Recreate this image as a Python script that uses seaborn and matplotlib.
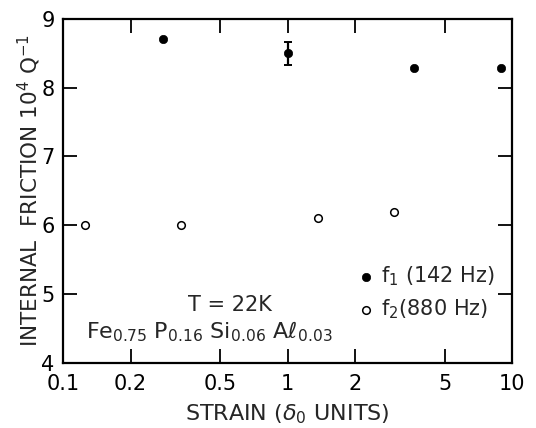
import matplotlib
matplotlib.use("Agg")
import matplotlib.pyplot as plt
import seaborn as sns
import pandas as pd

# Internal friction vs. strain amplitude at T = 22 K
strain_f1 = [0.28, 1.0, 3.65, 8.9]
friction_f1 = [8.7, 8.5, 8.28, 8.28]
err_f1 = [0.0, 0.17, 0.0, 0.0]

strain_f2 = [0.125, 0.335, 1.36, 2.97]
friction_f2 = [6.0, 6.0, 6.1, 6.2]

x_ticks = [0.1, 0.2, 0.5, 1, 2, 5, 10]
x_ticklabels = ["0.1", "0.2", "0.5", "1", "2", "5", "10"]
y_ticks = [4, 5, 6, 7, 8, 9]

sns.set_style("ticks")
plt.rcParams["font.family"] = ["DejaVu Sans"]
plt.rcParams["mathtext.fontset"] = "dejavusans"

df1 = pd.DataFrame({"strain": strain_f1, "q": friction_f1, "err": err_f1})
df2 = pd.DataFrame({"strain": strain_f2, "q": friction_f2})

fig = plt.figure(figsize=(5.36, 4.28), dpi=100)
ax = fig.add_axes([0.1175, 0.152, 0.838, 0.804])

sns.scatterplot(data=df1, x="strain", y="q", ax=ax, color="black", s=36,
                edgecolor="black", linewidth=0.5, label=r"f$_1$ (142 Hz)", zorder=3)
sns.scatterplot(data=df2, x="strain", y="q", ax=ax, facecolor="white", s=30,
                edgecolor="black", linewidth=1.1, label=r"f$_2$(880 Hz)", zorder=3)

# error bar on the point with a measured uncertainty
eb = df1[df1["err"] > 0]
ax.errorbar(eb["strain"], eb["q"], yerr=eb["err"], fmt="none", ecolor="black",
            elinewidth=1.6, capsize=3, capthick=1.4, zorder=2)

ax.set_xscale("log")
ax.set_xlim(0.1, 10)
ax.set_ylim(4, 9)
ax.set_xticks(x_ticks)
ax.set_xticklabels(x_ticklabels)
ax.xaxis.set_minor_locator(matplotlib.ticker.NullLocator())
ax.set_yticks(y_ticks)

ax.tick_params(axis="both", which="major", direction="in", length=10, width=1.3,
               top=True, right=True, labelsize=15, colors="black")
ax.tick_params(axis="x", pad=8)
ax.tick_params(axis="y", pad=6)
for sp in ax.spines.values():
    sp.set_linewidth(1.6)
    sp.set_color("black")

ax.set_xlabel(r"STRAIN ($\delta_0$ UNITS)", fontsize=16, labelpad=6)
ax.set_ylabel(r"INTERNAL  FRICTION 10$^4$ Q$^{-1}$", fontsize=15.5, labelpad=-1)

ax.text(0.555, 4.84, "T = 22K", fontsize=15, ha="center", va="center")
ax.text(0.1265, 4.45, r"Fe$_{0.75}$ P$_{0.16}$ Si$_{0.06}$ Aℓ$_{0.03}$",
        fontsize=16, ha="left", va="center")

leg = ax.legend(loc="upper left", bbox_to_anchor=(0.655, 0.285), frameon=False,
                fontsize=15, handlelength=0.8, handletextpad=0.35, labelspacing=0.45,
                borderaxespad=0.0, borderpad=0.0)

fig.savefig("out.png", dpi=100)
